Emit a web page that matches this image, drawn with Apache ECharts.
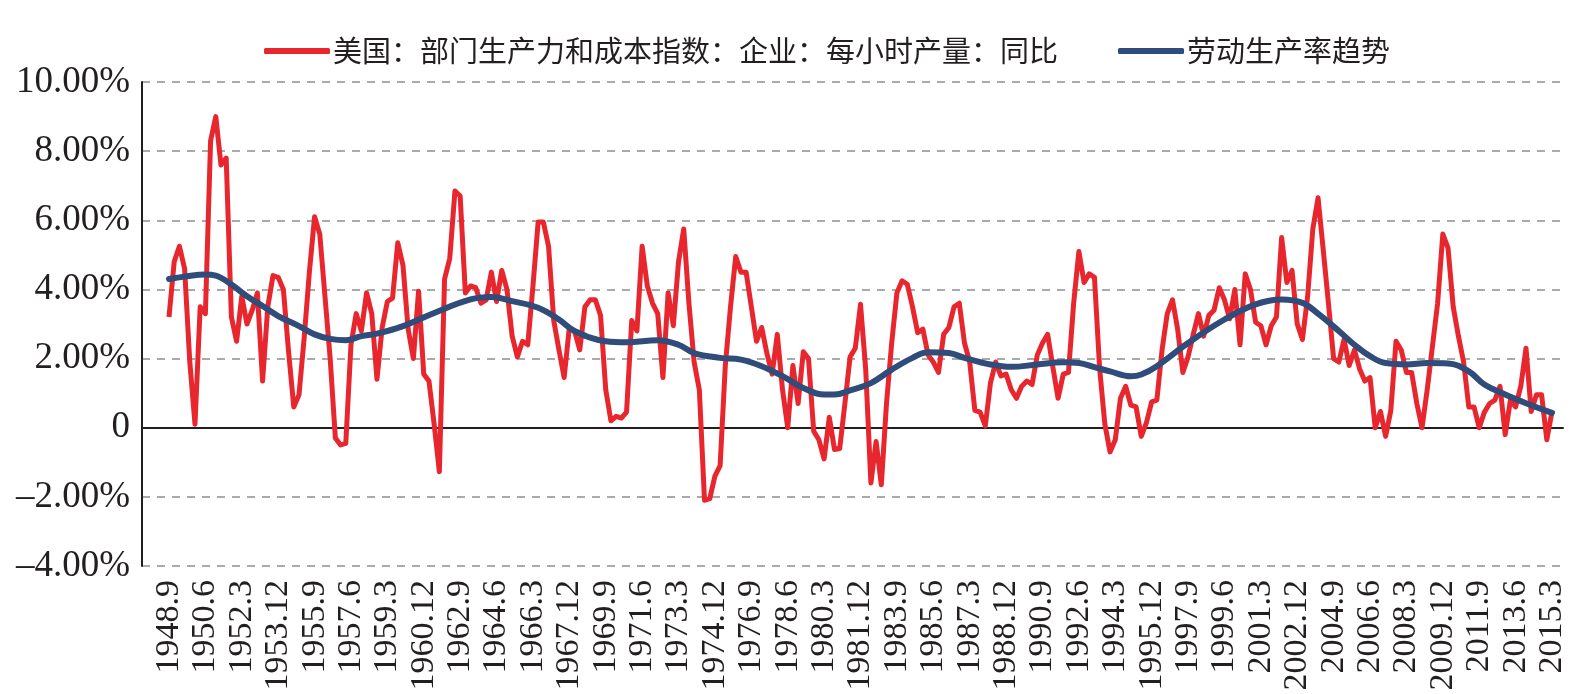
<!DOCTYPE html>
<html>
<head>
<meta charset="utf-8">
<title>美国劳动生产率</title>
<script src="https://cdn.jsdelivr.net/npm/echarts@6/dist/echarts.min.js"></script>
<style>
  html, body { margin: 0; padding: 0; background: #fff; }
  #main { width: 1586px; height: 694px; }
</style>
</head>
<body>
<div id="main"></div>
<script>
// quarterly, first quarter 1948.9, last 2015.3
var startYear = 1948;
var startMonth = 9;
var quarterCount = 267;

// 美国：部门生产力和成本指数：企业：每小时产量：同比 (%)
var yoy = [
  3.2, 4.8, 5.25, 4.6, 1.9, 0.1, 3.5, 3.3, 8.3, 9.0,
  7.6, 7.8, 3.2, 2.5, 3.8, 3.0, 3.4, 3.9, 1.35, 3.5,
  4.4, 4.35, 4.0, 2.2, 0.6, 0.95, 2.6, 4.5, 6.1, 5.6,
  3.8, 2.0, -0.3, -0.5, -0.45, 2.4, 3.3, 2.8, 3.9, 3.3,
  1.4, 2.9, 3.65, 3.75, 5.35, 4.7, 2.85, 2.0, 3.95, 1.55,
  1.35, 0.1, -1.27, 4.3, 4.9, 6.85, 6.7, 3.9, 4.1, 4.05,
  3.6, 3.7, 4.5, 3.65, 4.55, 4.0, 2.65, 2.05, 2.5, 2.4,
  4.1, 5.95, 5.95, 5.25, 3.1, 2.25, 1.45, 2.9, 2.8, 2.25,
  3.5, 3.7, 3.7, 3.25, 1.1, 0.2, 0.33, 0.28, 0.45, 3.1,
  2.8, 5.25, 4.1, 3.6, 3.3, 1.45, 3.9, 2.95, 4.8, 5.75,
  3.6, 1.9, 1.1, -2.1, -2.05, -1.4, -1.1, 1.8, 3.5, 4.95,
  4.5, 4.5, 3.5, 2.5, 2.9, 2.15, 1.55, 2.7, 1.1, 0.0,
  1.8, 0.7, 2.2, 2.0, -0.1, -0.35, -0.9, 0.3, -0.63, -0.6,
  0.7, 2.05, 2.3, 3.57, 1.7, -1.6, -0.4, -1.65, 0.7, 2.45,
  3.9, 4.25, 4.15, 3.5, 2.75, 2.85, 2.1, 1.9, 1.6, 2.7,
  2.9, 3.5, 3.6, 2.45, 1.9, 0.5, 0.45, 0.05, 1.3, 1.9,
  1.5, 1.55, 1.1, 0.85, 1.2, 1.35, 1.25, 2.1, 2.45, 2.7,
  1.75, 0.85, 1.55, 1.6, 3.6, 5.1, 4.2, 4.45, 4.35, 1.7,
  0.1, -0.7, -0.35, 0.85, 1.2, 0.65, 0.6, -0.25, 0.15, 0.75,
  0.8, 2.25, 3.3, 3.7, 2.85, 1.6, 2.05, 2.7, 3.3, 2.65,
  3.25, 3.4, 4.05, 3.7, 3.15, 4.0, 2.4, 4.45, 4.0, 3.05,
  2.95, 2.4, 2.95, 3.2, 5.5, 4.2, 4.55, 3.0, 2.55, 3.8,
  5.75, 6.65, 5.15, 3.6, 2.0, 1.9, 2.55, 1.8, 2.25, 1.7,
  1.35, 1.45, 0.0, 0.47, -0.25, 0.5, 2.5, 2.25, 1.6, 1.6,
  0.7, 0.0, 1.1, 2.35, 3.6, 5.6, 5.2, 3.5, 2.65, 1.9,
  0.6, 0.6, 0.0, 0.45, 0.7, 0.8, 1.2, -0.2, 0.8, 0.6,
  1.2, 2.3, 0.47, 0.95, 0.95, -0.35, 0.47
];

// 劳动生产率趋势, read at these quarter positions
var trendIdx = [0, 3, 7, 9, 12, 15, 18, 21, 25, 28, 31, 34, 37, 40, 45, 51, 58, 62, 66, 71,
  75, 78, 84, 88, 94, 98, 101, 106, 110, 114, 118, 122, 126, 128, 131, 135, 139, 143, 146, 150,
  153, 158, 162, 167, 172, 175, 178, 181, 185, 187, 190, 196, 203, 209, 214, 218, 221, 225, 228, 231,
  234, 238, 242, 246, 250, 253, 257, 261, 266];
var trendVal = [4.3, 4.37, 4.43, 4.4, 4.14, 3.8, 3.52, 3.23, 2.94, 2.7, 2.57, 2.53, 2.65, 2.72, 2.94, 3.32, 3.71, 3.78, 3.66, 3.47,
  3.13, 2.8, 2.5, 2.47, 2.53, 2.4, 2.16, 2.02, 1.97, 1.78, 1.49, 1.15, 0.96, 0.96, 1.08, 1.29, 1.68, 2.02, 2.18, 2.16,
  2.02, 1.83, 1.76, 1.83, 1.89, 1.87, 1.75, 1.63, 1.49, 1.54, 1.78, 2.45, 3.13, 3.57, 3.71, 3.61, 3.3, 2.8, 2.4, 2.07,
  1.87, 1.83, 1.87, 1.86, 1.63, 1.25, 0.96, 0.71, 0.43];

var yMin = -4, yMax = 10, yStep = 2;

var cats = [];
for (var k = 0; k < quarterCount; k++) {
  var m = startMonth + 3 * k - 1;
  cats.push((startYear + Math.floor(m / 12)) + "." + (m % 12 + 1));
}

var trend = [];
for (var j = 0; j < trendIdx.length; j++) {
  trend.push([trendIdx[j], trendVal[j]]);
}

var serif = "'Liberation Serif', 'Times New Roman', serif";
var cjk = "'Noto Sans CJK SC', sans-serif";

var myChart = echarts.init(document.getElementById("main"));
var option = {
  animation: false,
  backgroundColor: "#fff",
  legend: {
    left: 259,
    top: 30,
    itemWidth: 66,
    itemHeight: 6,
    itemGap: 60,
    icon: "roundRect",
    textStyle: { fontFamily: cjk, fontSize: 29, color: "#231f20", lineHeight: 32, padding: [0, 0, 0, -2] },
    data: ["美国：部门生产力和成本指数：企业：每小时产量：同比", "劳动生产率趋势"]
  },
  grid: [
    { left: 142, right: 23, top: 82, bottom: 128 },
    { left: 169, right: 34, top: 82, bottom: 128 }
  ],
  xAxis: [
    {
      gridIndex: 0,
      type: "value",
      min: 0,
      max: 1,
      axisLine: { show: true, onZero: true, lineStyle: { color: "#231f20", width: 2 } },
      axisTick: { show: false },
      axisLabel: { show: false },
      splitLine: { show: false }
    },
    {
      gridIndex: 1,
      type: "category",
      data: cats,
      boundaryGap: false,
      axisLine: { show: false, onZero: false },
      axisTick: { show: false },
      splitLine: { show: false },
      axisLabel: {
        interval: 6,
        rotate: 90,
        margin: 14,
        fontFamily: serif,
        fontSize: 34,
        color: "#231f20"
      }
    }
  ],
  yAxis: [
    {
      gridIndex: 0,
      type: "value",
      min: yMin,
      max: yMax,
      interval: yStep,
      axisLine: { show: true, lineStyle: { color: "#231f20", width: 2 } },
      axisTick: { show: false },
      axisLabel: {
        margin: 12,
        fontFamily: serif,
        fontSize: 37,
        color: "#231f20",
        formatter: function (v) {
          if (v === 0) return "0";
          return (v < 0 ? "\u2013" : "") + Math.abs(v).toFixed(2) + "%";
        }
      },
      splitLine: { show: true, lineStyle: { color: "#8f8f8f", width: 1.5, type: [8, 7] } }
    },
    {
      gridIndex: 1,
      type: "value",
      min: yMin,
      max: yMax,
      show: false,
      splitLine: { show: false }
    }
  ],
  series: [
    {
      name: "美国：部门生产力和成本指数：企业：每小时产量：同比",
      type: "line",
      xAxisIndex: 1,
      yAxisIndex: 1,
      data: yoy,
      symbol: "none",
      color: "#e8262d",
      lineStyle: { color: "#e8262d", width: 5, join: "round" }
    },
    {
      name: "劳动生产率趋势",
      type: "line",
      xAxisIndex: 1,
      yAxisIndex: 1,
      data: trend,
      smooth: 0.4,
      symbol: "none",
      color: "#2f4c7b",
      lineStyle: { color: "#2f4c7b", width: 6, cap: "round" }
    }
  ]
};
myChart.setOption(option);
</script>
</body>
</html>
